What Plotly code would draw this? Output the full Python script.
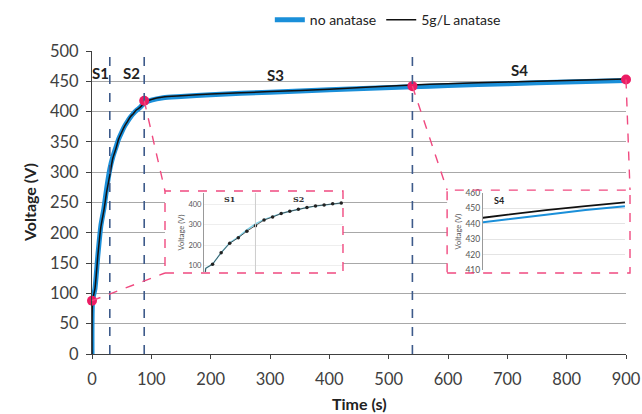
import plotly.graph_objects as go

# ---------------- data ----------------
time_s = [0, 1, 5, 10, 15, 20, 25, 30, 35, 40, 45, 50, 55, 60, 65, 70, 75, 80, 85, 90,
          100, 120, 150, 200, 300, 400, 540, 600, 700, 800, 900]
v_no_anatase = [0, 88, 108, 164, 212, 240, 275, 305, 325, 340, 355, 366, 376, 384, 391, 397, 402, 406, 411, 415,
                419, 423, 425, 428, 432, 436, 441, 443, 446, 449, 451.5]
v_5gL = [0, 88, 108, 164, 210, 237, 269, 295, 323, 338, 355, 366, 376, 384, 392, 397, 403, 406, 411, 416,
         420, 424, 426, 429, 433, 437, 444, 446, 449, 451.5, 454]

phase_bounds = [30, 88, 540]
phase_labels = ["S1", "S2", "S3", "S4"]
phase_label_t = [15, 66, 310, 721]
phase_label_v = [464, 464, 460, 469]

mark_t = [0, 88, 540, 900]
mark_v = [88, 418, 442, 453]

x_ticks = [0, 100, 200, 300, 400, 500, 600, 700, 800, 900]
y_ticks = [0, 50, 100, 150, 200, 250, 300, 350, 400, 450, 500]
inset1_yticks = [100, 200, 300, 400]
inset2_yticks = [410, 420, 430, 440, 450, 460]

XMAX, YMAX = 900, 500
BLUE = "#1A8FD9"
PINK = "#EC1C64"
FONT = "Lato"

# inset boxes (fractions of plot area)
box1 = dict(x0=0.1367, x1=0.470, y0=0.2673, y1=0.538)
box2 = dict(x0=0.665, x1=1.0075, y0=0.2673, y1=0.541)

fig = go.Figure()

# main traces
fig.add_trace(go.Scatter(x=time_s, y=v_no_anatase, mode="lines", name="no anatase",
                         line=dict(color=BLUE, width=5, shape="spline", smoothing=0.6), xaxis="x", yaxis="y"))
fig.add_trace(go.Scatter(x=time_s, y=v_5gL, mode="lines", name="5g/L anatase",
                         line=dict(color="#111111", width=1.5, shape="spline", smoothing=0.6), xaxis="x", yaxis="y"))
fig.add_trace(go.Scatter(x=mark_t, y=mark_v, mode="markers", showlegend=False,
                         marker=dict(color=PINK, size=10), cliponaxis=False, xaxis="x", yaxis="y"))

# inset 1 (S1/S2)
sel1 = [i for i, t in enumerate(time_s) if t <= 80]
sel1d = [i for i, t in enumerate(time_s) if 5 <= t <= 80]
fig.add_trace(go.Scatter(x=[time_s[i] for i in sel1], y=[v_no_anatase[i] for i in sel1], mode="lines",
                         showlegend=False, line=dict(color="#7FD0E6", width=1.5), xaxis="x2", yaxis="y2"))
fig.add_trace(go.Scatter(x=[time_s[i] for i in sel1], y=[v_5gL[i] for i in sel1], mode="lines",
                         showlegend=False, line=dict(color="#333333", width=0.8), xaxis="x2", yaxis="y2"))
fig.add_trace(go.Scatter(x=[time_s[i] for i in sel1d], y=[v_5gL[i] for i in sel1d], mode="markers",
                         showlegend=False, marker=dict(color="#222222", size=3.5), xaxis="x2", yaxis="y2"))

# inset 2 (S4)
sel2 = [i for i, t in enumerate(time_s) if t >= 540]
fig.add_trace(go.Scatter(x=[time_s[i] for i in sel2], y=[v_no_anatase[i] for i in sel2], mode="lines",
                         showlegend=False, line=dict(color=BLUE, width=2), xaxis="x3", yaxis="y3"))
fig.add_trace(go.Scatter(x=[time_s[i] for i in sel2], y=[v_5gL[i] for i in sel2], mode="lines",
                         showlegend=False, line=dict(color="#111111", width=1.8), xaxis="x3", yaxis="y3"))

shapes = []
# white backgrounds for insets (above main gridlines, below traces)
for b in (box1, box2):
    shapes.append(dict(type="rect", xref="x", yref="y", layer="between",
                       x0=b["x0"] * XMAX, x1=min(b["x1"], 1) * XMAX, y0=b["y0"] * YMAX, y1=b["y1"] * YMAX,
                       fillcolor="white", line=dict(width=0)))
# phase boundaries
for t in phase_bounds:
    shapes.append(dict(type="line", xref="x", yref="y", x0=t, x1=t, y0=0, y1=YMAX * 0.995,
                       line=dict(color="#3D5A8A", width=1.6, dash="dash"), layer="above"))
# inset boxes
for b in (box1, box2):
    shapes.append(dict(type="rect", xref="paper", yref="paper", layer="above",
                       x0=b["x0"], x1=b["x1"], y0=b["y0"], y1=b["y1"],
                       line=dict(color="#F04A80", width=1.4, dash="dash")))
# connectors
conn = [((mark_t[0], mark_v[0]), (box1["x0"], box1["y0"])),
        ((mark_t[1], mark_v[1]), (box1["x0"], box1["y1"])),
        ((mark_t[2], mark_v[2]), (box2["x0"], box2["y1"])),
        ((mark_t[3], mark_v[3]), (box2["x1"], box2["y1"]))]
for (t, v), (px, py) in conn:
    shapes.append(dict(type="line", xref="paper", yref="paper", layer="above",
                       x0=t / XMAX, y0=v / YMAX, x1=px, y1=py,
                       line=dict(color="#F04A80", width=1.4, dash="dash")))

annotations = []
for lab, t, v in zip(phase_labels, phase_label_t, phase_label_v):
    annotations.append(dict(x=t, y=v, xref="x", yref="y", text="<b>%s</b>" % lab, showarrow=False,
                            font=dict(family=FONT, size=15, color="#222222")))
annotations += [
    dict(x=15, y=425, xref="x2", yref="y2", text="<b>S1</b>", showarrow=False,
         font=dict(family="DejaVu Serif", size=8, color="#333333")),
    dict(x=55, y=425, xref="x2", yref="y2", text="<b>S2</b>", showarrow=False,
         font=dict(family="DejaVu Serif", size=8, color="#333333")),
    dict(x=580, y=455, xref="x3", yref="y3", text="<b>S4</b>", showarrow=False,
         font=dict(family=FONT, size=9, color="#222222")),
    # axis titles as paper annotations for exact placement
    dict(x=0.5, y=-0.165, xref="paper", yref="paper", text="<b>Time (s)</b>", showarrow=False,
         xanchor="center", yanchor="middle", font=dict(family=FONT, size=16, color="#222222")),
    dict(x=-0.117, y=0.5, xref="paper", yref="paper", text="<b>Voltage (V)</b>", showarrow=False,
         textangle=-90, xanchor="center", yanchor="middle", font=dict(family=FONT, size=16, color="#222222")),
]

tickfont = dict(family=FONT, size=16.5, color="#404040")
small = dict(family=FONT, size=7.5, color="#555555")

fig.update_layout(
    width=642, height=414,
    margin=dict(l=92, r=16, t=51, b=60, autoexpand=False),
    paper_bgcolor="white", plot_bgcolor="white",
    font=dict(family=FONT),
    showlegend=True,
    legend=dict(orientation="h", x=0.333, y=1.102, xanchor="left", yanchor="middle",
                font=dict(family=FONT, size=14, color="#222222"), itemwidth=30,
                bgcolor="rgba(0,0,0,0)", tracegroupgap=0),
    xaxis=dict(range=[0, XMAX], tickvals=x_ticks, showgrid=False, zeroline=False, automargin=False,
               showline=True, linecolor="#404040", linewidth=1.2, ticks="outside", ticklen=4,
               tickcolor="#404040", tickfont=tickfont, ticklabelstandoff=6),
    yaxis=dict(range=[0, YMAX], tickvals=y_ticks, showgrid=True, gridcolor="#A8A8A8", gridwidth=1,
               zeroline=False, showline=True, linecolor="#404040", linewidth=1.2, ticks="outside",
               automargin=False, ticklen=5, tickcolor="#404040", tickfont=tickfont, ticklabelstandoff=4),
    xaxis2=dict(domain=[0.2097, 0.470], anchor="y2", range=[0, 81], showticklabels=False, ticks="",
                showgrid=False, zeroline=False, showline=False),
    yaxis2=dict(domain=[0.2706, 0.5314], anchor="x2", range=[70, 455], tickvals=inset1_yticks,
                showgrid=True, gridcolor="#EEEEEE", zeroline=False, showline=True, linecolor="#999999",
                linewidth=1, tickfont=small, ticks="",
                title=dict(text="Voltage (V)", font=small, standoff=2)),
    xaxis3=dict(domain=[0.732, 0.998], anchor="y3", range=[540, 900], showticklabels=False, ticks="",
                showgrid=False, zeroline=False, showline=False),
    yaxis3=dict(domain=[0.277, 0.531], anchor="x3", range=[410, 460], tickvals=inset2_yticks,
                showgrid=True, gridcolor="#E4E4E4", zeroline=False, showline=True, linecolor="#999999",
                linewidth=1, tickfont=dict(family=FONT, size=8.5, color="#555555"), ticks="",
                title=dict(text="Voltage (V)", font=small, standoff=2)),
    shapes=shapes,
    annotations=annotations,
)
# separator in inset 1 at the S1/S2 boundary
fig.add_shape(type="line", xref="x2", yref="y2", x0=phase_bounds[0], x1=phase_bounds[0], y0=70, y1=455,
              line=dict(color="#CCCCCC", width=1))

fig.write_html("out.html")
